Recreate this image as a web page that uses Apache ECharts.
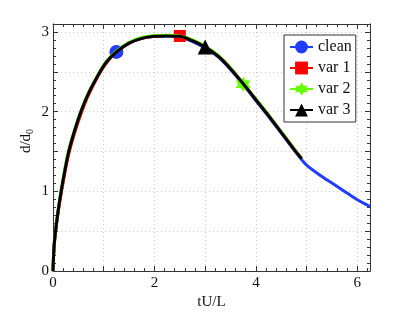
<!DOCTYPE html>
<html>
<head>
<meta charset="utf-8">
<script src="https://cdn.jsdelivr.net/npm/echarts@6/dist/echarts.min.js"></script>
<style>html,body{margin:0;padding:0;background:#fff;}#c{width:409px;height:315px;}</style>
</head>
<body>
<div id="c"></div>
<script>
// ---- data ----
var tVar   = [0, 0.02, 0.05, 0.1, 0.16, 0.23, 0.31, 0.43, 0.55, 0.7, 0.9, 1.05, 1.25, 1.5, 1.75, 2.0, 2.25, 2.5, 2.75, 3.0, 3.25, 3.5, 3.75, 4.0, 4.25, 4.5, 4.75, 4.9];
var dVar1  = [0, 0.29, 0.49, 0.73, 0.97, 1.22, 1.47, 1.74, 1.97, 2.21, 2.46, 2.61, 2.75, 2.86, 2.92, 2.945, 2.955, 2.95, 2.895, 2.815, 2.705, 2.545, 2.355, 2.155, 1.955, 1.745, 1.535, 1.415];
var dVar2  = [0, 0.31, 0.51, 0.76, 1.01, 1.27, 1.52, 1.78, 2.01, 2.24, 2.48, 2.63, 2.76, 2.87, 2.93, 2.955, 2.96, 2.95, 2.9, 2.82, 2.71, 2.55, 2.345, 2.16, 1.96, 1.75, 1.54, 1.41];
var dVar3  = [0, 0.3, 0.5, 0.75, 1.0, 1.25, 1.5, 1.77, 2.0, 2.23, 2.47, 2.62, 2.75, 2.86, 2.92, 2.945, 2.95, 2.945, 2.89, 2.81, 2.70, 2.54, 2.35, 2.15, 1.95, 1.74, 1.53, 1.41];
var tClean = [0, 0.02, 0.05, 0.1, 0.16, 0.23, 0.31, 0.43, 0.55, 0.7, 0.9, 1.05, 1.25, 1.5, 1.75, 2.0, 2.25, 2.5, 2.75, 3.0, 3.25, 3.5, 3.75, 4.0, 4.25, 4.5, 4.75, 4.9, 5.0, 5.25, 5.5, 5.75, 6.0, 6.25];
var dClean = [0, 0.3, 0.5, 0.75, 1.0, 1.25, 1.5, 1.77, 2.0, 2.23, 2.47, 2.62, 2.75, 2.86, 2.92, 2.945, 2.95, 2.94, 2.88, 2.80, 2.69, 2.53, 2.34, 2.14, 1.94, 1.73, 1.52, 1.40, 1.33, 1.21, 1.105, 1.0, 0.895, 0.81];
var seriesNames = ['clean', 'var 1', 'var 2', 'var 3'];
var markerT = [1.25, 2.5, 3.75, 3.0];
var xTicks = [0, 2, 4, 6];
var yTicks = [0, 1, 2, 3];

var colors = ['#1f3cff', '#ff0000', '#66ff00', '#000000'];
var symbols = ['circle', 'rect',
  'path://M0,-10 L2.9,-5 L8.66,-5 L5.8,0 L8.66,5 L2.9,5 L0,10 L-2.9,5 L-8.66,5 L-5.8,0 L-8.66,-5 L-2.9,-5 Z',
  'triangle'];
var symSizes = [14, 12, 15, 15];

function build(ts, ds, mt, sym, size) {
  return ts.map(function (t, i) {
    if (t === mt) return { value: [t, ds[i]], symbol: sym, symbolSize: size };
    return { value: [t, ds[i]], symbol: 'none' };
  });
}

var sets = [[tClean, dClean], [tVar, dVar1], [tVar, dVar2], [tVar, dVar3]];
var series = sets.map(function (s, k) {
  return {
    name: seriesNames[k],
    type: 'line',
    data: build(s[0], s[1], markerT[k], symbols[k], symSizes[k]),
    symbol: symbols[k],
    symbolSize: symSizes[k],
    showSymbol: true,
    showAllSymbol: true,
    smooth: 0.3,
    z: 2 + k,
    color: colors[k],
    lineStyle: { color: colors[k], width: 3 },
    itemStyle: { color: colors[k] },
    emphasis: { disabled: true },
    animation: false
  };
});

var font = 'Liberation Serif';
var gridLine = { show: true, lineStyle: { color: '#c8c8c8', type: [1, 3], width: 1 } };

var chart = echarts.init(document.getElementById('c'), null, { renderer: 'canvas' });
chart.setOption({
  animation: false,
  backgroundColor: '#fff',
  grid: { left: 53, right: 39, top: 24, bottom: 36 },
  legend: {
    data: seriesNames,
    orient: 'vertical',
    left: 284, top: 35,
    padding: [4, 4, 4, 5],
    itemWidth: 23, itemHeight: 16, itemGap: 5,
    backgroundColor: '#fff',
    borderColor: '#333', borderWidth: 1,
    textStyle: { fontFamily: font, fontSize: 16, color: '#111' }
  },
  xAxis: [{
    type: 'value', min: 0, max: 6.25, interval: 1, position: 'bottom',
    name: 'tU/L', nameLocation: 'middle', nameGap: 21,
    nameTextStyle: { fontFamily: font, fontSize: 15, color: '#111' },
    axisLine: { show: true, onZero: false, lineStyle: { color: '#333', width: 1 } },
    axisTick: { show: true, inside: true, length: 5, lineStyle: { color: '#333' } },
    minorTick: { show: true, splitNumber: 5, length: 3, lineStyle: { color: '#333' } },
    splitLine: gridLine,
    axisLabel: { fontFamily: font, fontSize: 15, color: '#111', margin: 4,
      formatter: function (v) { return xTicks.indexOf(v) >= 0 ? String(v) : ''; } }
  }, {
    type: 'value', min: 0, max: 6.25, interval: 1, position: 'top',
    axisLine: { show: true, onZero: false, lineStyle: { color: '#333', width: 1 } },
    axisTick: { show: true, inside: true, length: 5, lineStyle: { color: '#333' } },
    minorTick: { show: true, splitNumber: 5, length: 3, lineStyle: { color: '#333' } },
    splitLine: { show: false }, axisLabel: { show: false }
  }],
  yAxis: [{
    type: 'value', min: 0, max: 3.1, interval: 0.5, position: 'left',
    axisLine: { show: true, onZero: false, lineStyle: { color: '#333', width: 1 } },
    axisTick: { show: true, inside: true, length: 5, lineStyle: { color: '#333' } },
    minorTick: { show: true, splitNumber: 5, length: 3, lineStyle: { color: '#333' } },
    splitLine: gridLine,
    axisLabel: { fontFamily: font, fontSize: 15, color: '#111', margin: 4,
      formatter: function (v) { return yTicks.indexOf(v) >= 0 ? String(v) : ''; } }
  }, {
    type: 'value', min: 0, max: 3.1, interval: 0.5, position: 'right',
    axisLine: { show: true, onZero: false, lineStyle: { color: '#333', width: 1 } },
    axisTick: { show: true, inside: true, length: 5, lineStyle: { color: '#333' } },
    minorTick: { show: true, splitNumber: 5, length: 3, lineStyle: { color: '#333' } },
    splitLine: { show: false }, axisLabel: { show: false }
  }],
  graphic: [{
    type: 'text',
    x: 26, y: 141,
    rotation: Math.PI / 2,
    style: {
      text: '{a|d/d}{b|0}',
      align: 'center', verticalAlign: 'middle',
      fill: '#111',
      rich: {
        a: { fontFamily: font, fontSize: 15, fill: '#111' },
        b: { fontFamily: font, fontSize: 10, fill: '#111', padding: [8, 0, 0, 0] }
      }
    }
  }],
  series: series
});
</script>
</body>
</html>
